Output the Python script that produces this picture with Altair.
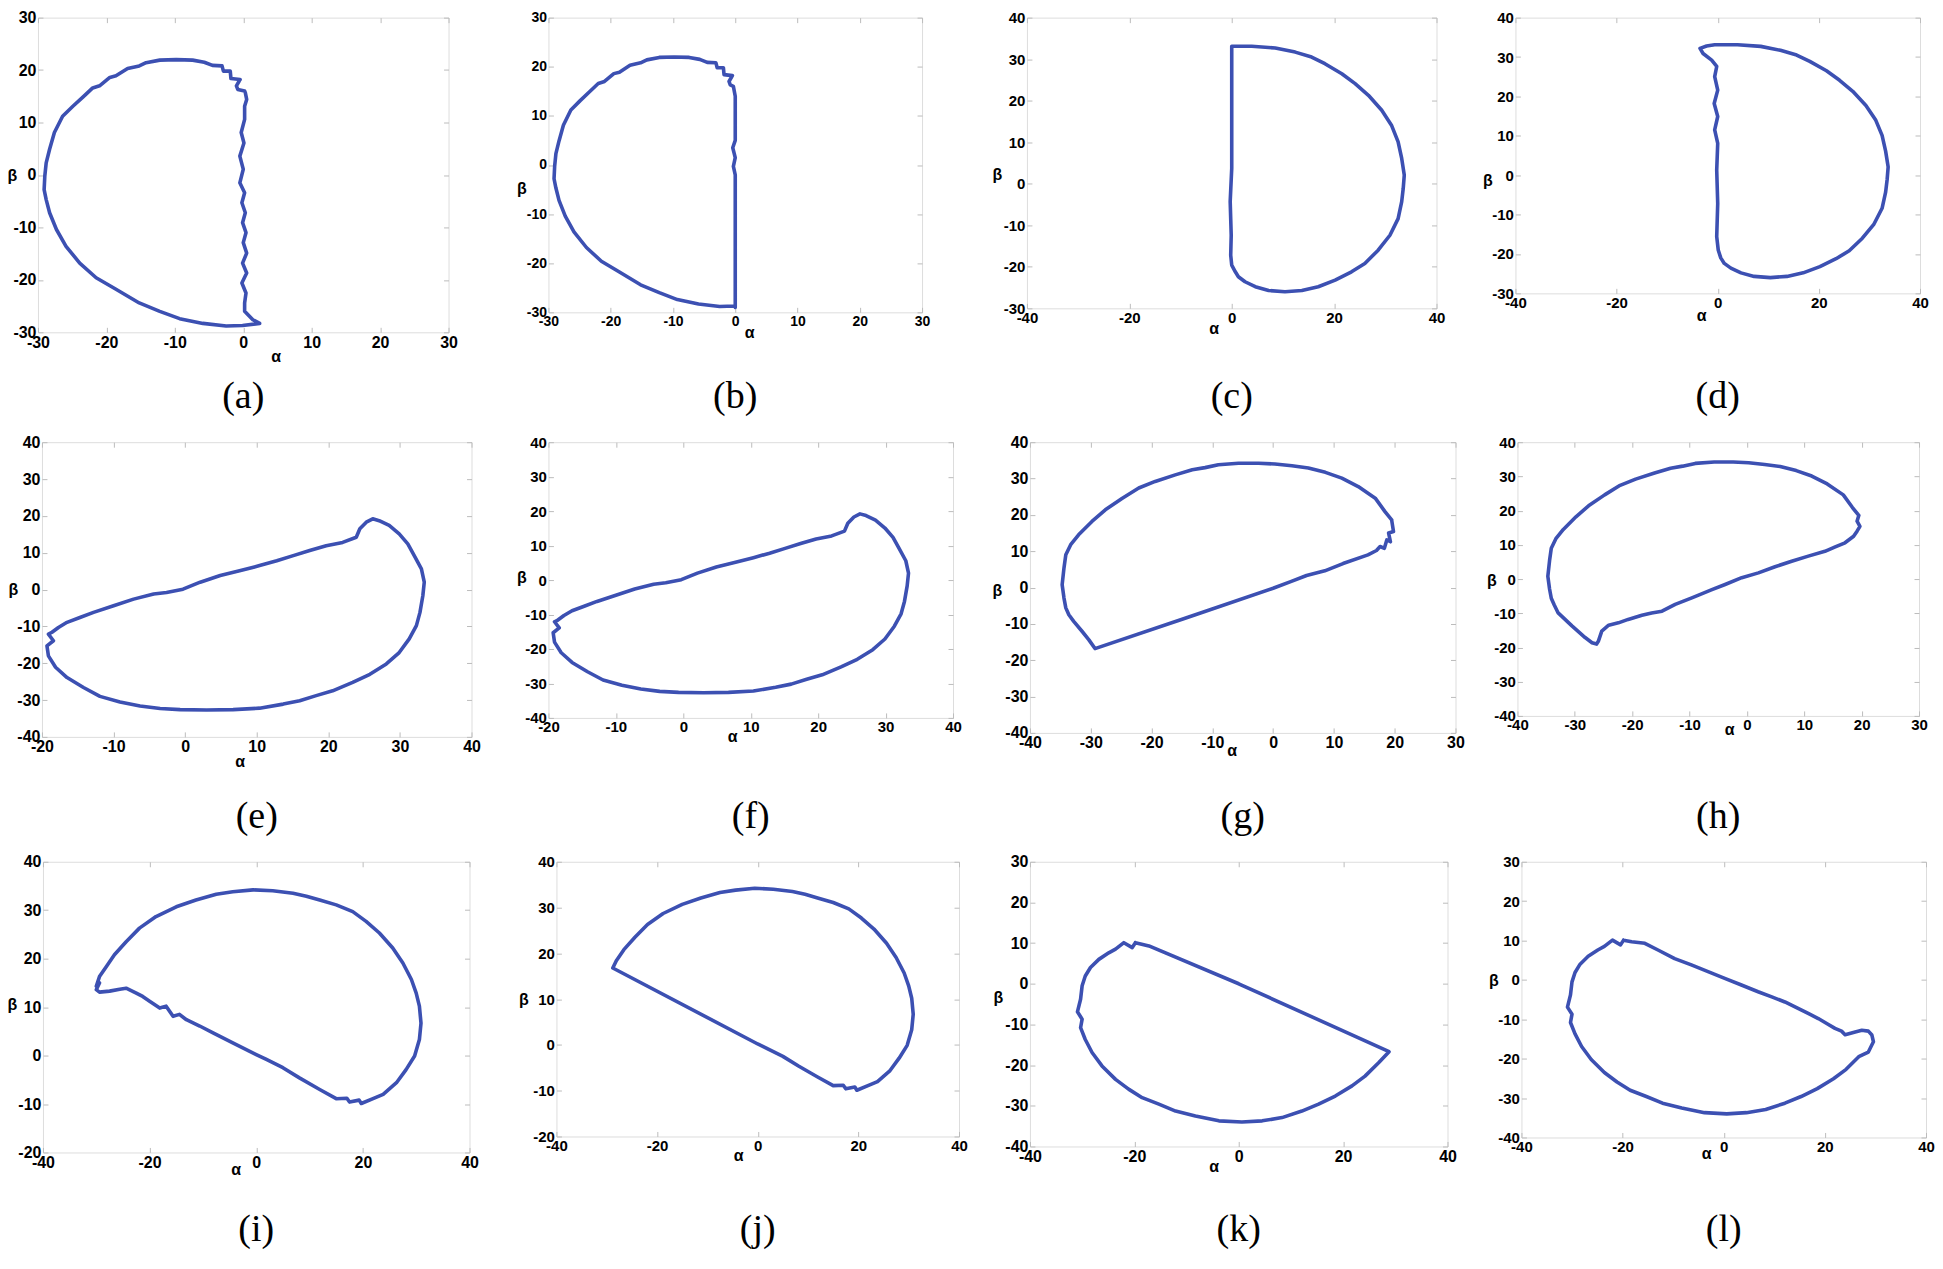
import altair as alt
import pandas as pd

# ---------------- data, (alpha, beta) pairs ----------------
ARC_AB = [(-0.46, 18.2), (-1.8, 18.4), (-1.9, 19.8), (-2.9, 19.8), (-3.1, 20.8), (-4.5, 20.9),
          (-5.7, 21.5), (-7.4, 21.9), (-9.8, 22.0), (-12.2, 21.9), (-14.2, 21.4), (-15.2, 20.8),
          (-16.9, 20.3), (-18.6, 18.9), (-19.5, 18.6), (-21.0, 17.0), (-22.0, 16.6), (-23.4, 14.9),
          (-24.9, 13.1), (-26.4, 11.2), (-27.6, 8.1), (-28.3, 4.9), (-28.8, 2.3), (-29.0, -0.2),
          (-29.1, -2.8), (-28.8, -4.7), (-28.3, -7.2), (-27.3, -10.4), (-25.9, -13.6), (-23.9, -16.8),
          (-21.5, -19.6), (-18.6, -21.8), (-15.2, -24.4), (-12.2, -26.0), (-9.3, -27.4), (-5.9, -28.3),
          (-2.5, -28.8), (-0.1, -28.7)]
A_CLOSE = [(2.4, -28.3), (1.4, -27.6), (0.2, -26.0), (0.2, -24.4), (0.4, -22.5), (-0.2, -20.6),
           (0.5, -18.7), (-0.1, -16.8), (0.5, -14.9), (0.0, -12.9), (0.4, -11.0), (-0.1, -9.1),
           (0.3, -7.2), (-0.2, -5.3), (0.2, -3.4), (-0.5, -1.5), (0.0, 1.1), (-0.5, 3.6), (0.1, 6.1),
           (-0.3, 8.1), (0.2, 10.6), (0.2, 13.1), (0.5, 14.4), (0.3, 15.7), (0.2, 16.0), (-0.8, 16.3),
           (-1.0, 17.0), (-0.46, 18.2)]
B_CLOSE = [(0.0, -29.0), (0.0, -2.0), (-0.3, -0.3), (0.0, 1.5), (-0.4, 3.5), (0.0, 5.0), (0.0, 14.0),
           (-0.3, 16.0), (-0.8, 16.3), (-1.0, 17.0), (-0.46, 18.2)]

ARC_CD = [(0.8, 33.1), (3.9, 33.1), (8.5, 32.7), (12.4, 31.7), (15.6, 30.5), (18.2, 28.9), (21.5, 26.5),
          (24.1, 24.1), (26.7, 21.3), (29.3, 17.7), (31.2, 14.1), (32.5, 10.1), (33.2, 6.1), (33.7, 2.1),
          (33.5, -1.1), (33.2, -4.3), (32.5, -8.4), (30.9, -12.4), (28.6, -16.0), (26.0, -19.2),
          (23.4, -21.2), (20.2, -23.2), (16.9, -24.8), (13.7, -25.7), (10.4, -26.0), (7.2, -25.7),
          (4.6, -24.8), (2.6, -23.6), (1.3, -22.4)]
C_CLOSE = [(0.7, -21.2), (0.0, -19.6), (-0.2, -17.2), (-0.1, -12.4), (-0.3, -4.3), (0.0, 3.7),
           (0.0, 33.1), (0.8, 33.1)]
D_CLOSE = [(0.6, -21.0), (0.1, -19.0), (-0.2, -15.6), (0.0, -7.2), (-0.2, 1.3), (0.0, 8.1), (-0.6, 11.5),
           (0.0, 14.9), (-0.7, 18.2), (0.0, 21.6), (-0.6, 25.0), (-0.2, 27.6), (-1.2, 29.2), (-2.9, 30.9),
           (-3.5, 32.2), (-2.2, 32.8), (-0.6, 33.1), (0.8, 33.1)]

LOOP_EF = [(-18.6, -11.6), (-17.7, -10.3), (-16.5, -8.9), (-14.7, -7.6), (-12.8, -6.2), (-10.0, -4.4),
           (-7.2, -2.6), (-4.4, -1.2), (-2.6, -0.8), (-0.3, 0.1), (2.1, 2.0), (4.9, 3.8), (7.6, 5.1),
           (10.4, 6.5), (12.8, 7.8), (15.1, 9.2), (17.4, 10.6), (19.7, 11.9), (22.0, 12.8), (23.9, 14.2),
           (24.4, 16.5), (25.3, 18.3), (26.2, 19.2), (27.1, 18.7), (28.5, 17.4), (29.9, 15.1), (31.1, 12.4),
           (32.0, 9.2), (33.0, 5.6), (33.4, 2.0), (33.2, -1.7), (32.8, -6.2), (32.3, -9.8), (31.3, -13.4),
           (29.9, -17.1), (28.1, -20.2), (25.8, -23.0), (23.4, -25.2), (20.6, -27.5), (18.3, -28.8),
           (16.0, -30.2), (13.7, -31.1), (10.4, -32.2), (6.7, -32.6), (3.0, -32.7), (-0.7, -32.6),
           (-3.5, -32.3), (-6.3, -31.6), (-9.1, -30.5), (-11.9, -29.0), (-14.2, -26.6), (-16.5, -23.9),
           (-18.1, -21.1), (-19.1, -18.0), (-19.3, -15.3), (-18.4, -13.9), (-19.1, -12.1), (-18.6, -11.6)]

ARC_GH = [(19.5, 18.6), (18.4, 20.9), (16.8, 24.6), (14.0, 27.8), (11.3, 30.1), (8.6, 31.7), (5.8, 32.9),
          (3.1, 33.5), (0.3, 34.0), (-2.4, 34.2), (-5.7, 34.2), (-9.0, 33.8), (-11.2, 33.0), (-13.3, 32.4),
          (-16.1, 31.0), (-19.4, 29.2), (-22.1, 27.4), (-24.8, 24.6), (-27.6, 21.4), (-29.8, 18.2),
          (-32.0, 14.5), (-33.3, 11.8), (-34.1, 9.0), (-34.4, 5.4), (-34.7, 0.8), (-34.4, -2.9),
          (-34.1, -5.6), (-33.6, -7.5)]
G_CLOSE = [(-32.8, -9.3), (-31.4, -12.1), (-30.3, -14.4), (-29.3, -16.8), (-14.6, -8.5), (0.0, -0.2),
           (3.0, 1.7), (5.5, 3.3), (8.5, 4.6), (11.5, 6.6), (15.6, 9.0), (17.0, 10.2), (17.6, 11.3),
           (18.3, 10.8), (18.7, 13.1), (19.3, 12.6), (19.0, 15.0), (19.8, 15.4), (19.5, 18.6)]
H_CLOSE = [(-32.9, -9.9), (-30.5, -13.7), (-28.2, -17.1), (-27.0, -18.6), (-26.2, -19.0), (-25.9, -18.2),
           (-25.3, -15.2), (-24.1, -13.5), (-22.4, -12.8), (-20.7, -11.8), (-18.3, -10.6), (-16.6, -9.9),
           (-14.8, -9.4), (-12.5, -7.4), (-9.6, -5.5), (-6.1, -3.1), (-3.8, -1.6), (-0.9, 0.4), (2.0, 1.8),
           (4.9, 3.6), (7.8, 5.2), (10.7, 6.7), (13.6, 8.1), (15.4, 9.4), (17.1, 10.6), (18.6, 12.5),
           (19.2, 14.0), (19.7, 15.4), (19.2, 16.9), (19.5, 18.6)]

ARC_IJ = [(-28.1, 18.4), (-26.6, 20.8), (-24.4, 23.5), (-21.9, 26.3), (-18.8, 28.7), (-15.0, 30.7),
          (-11.3, 32.1), (-7.5, 33.3), (-4.4, 33.8), (-0.6, 34.2), (3.1, 34.0), (6.9, 33.5), (9.4, 32.9),
          (11.9, 32.1), (15.0, 31.1), (18.1, 29.7), (20.6, 27.7), (23.1, 25.3), (25.6, 22.2), (27.5, 19.1),
          (29.1, 15.7), (30.0, 12.9), (30.6, 10.2), (30.9, 6.7), (30.6, 3.3), (29.7, -0.1), (28.1, -2.9),
          (26.3, -5.6), (23.8, -8.0), (21.9, -8.9), (19.7, -9.9), (19.3, -9.2), (17.5, -9.6), (17.0, -8.8),
          (15.0, -8.9), (11.9, -7.0), (8.1, -4.6), (5.0, -2.5), (1.9, -0.8), (0.0, 0.2)]
I_CLOSE = [(-4.4, 2.6), (-8.1, 4.7), (-10.6, 6.1), (-13.1, 7.4), (-14.4, 8.5), (-15.6, 8.1), (-16.9, 10.2),
           (-18.1, 9.8), (-20.0, 11.2), (-21.3, 12.2), (-22.5, 12.9), (-24.4, 13.9), (-25.6, 13.7),
           (-27.5, 13.3), (-29.4, 13.1), (-30.0, 13.6), (-29.4, 15.0), (-30.0, 14.3), (-29.4, 16.3),
           (-28.1, 18.4)]
J_CLOSE = [(-28.8, 16.8), (-28.1, 18.4)]

ARC_KL = [(-19.8, 10.1), (-20.4, 8.9), (-22.0, 10.1), (-23.6, 8.5), (-24.9, 7.6), (-26.8, 6.0), (-28.4, 4.0),
          (-29.4, 1.9), (-30.0, -0.5), (-30.3, -3.8), (-30.9, -6.9), (-30.0, -8.7), (-30.3, -10.8),
          (-29.4, -13.7), (-28.1, -16.9), (-26.2, -20.2), (-23.6, -23.5), (-21.1, -25.9), (-18.5, -28.0),
          (-15.3, -29.6), (-12.1, -31.3), (-8.3, -32.5), (-3.8, -33.7), (0.6, -34.0), (4.5, -33.7),
          (8.3, -32.9), (12.1, -31.3), (15.3, -29.6), (18.5, -27.6), (21.7, -25.1), (24.2, -22.7),
          (26.8, -19.4)]
K_CLOSE = [(28.8, -16.7), (0.0, 0.0), (-17.2, 9.3), (-19.8, 10.1)]
L_CLOSE = [(28.6, -18.3), (29.6, -15.7), (29.3, -14.0), (28.6, -13.0), (27.3, -12.8), (26.0, -13.2),
           (24.0, -13.9), (23.3, -13.0), (22.0, -12.3), (20.7, -11.3), (18.7, -9.8), (16.7, -8.5),
           (14.8, -7.3), (12.1, -5.6), (9.5, -4.3), (6.8, -3.0), (3.5, -1.3), (0.2, 0.4), (-3.1, 2.1),
           (-6.4, 3.8), (-9.7, 5.4), (-13.0, 7.6), (-15.6, 9.3), (-18.2, 9.7), (-19.8, 10.1)]

CURVES = {
    "a": ARC_AB + A_CLOSE, "b": ARC_AB + B_CLOSE,
    "c": ARC_CD + C_CLOSE, "d": ARC_CD + D_CLOSE,
    "e": LOOP_EF, "f": LOOP_EF,
    "g": ARC_GH + G_CLOSE, "h": ARC_GH + H_CLOSE,
    "i": ARC_IJ + I_CLOSE, "j": ARC_IJ + J_CLOSE,
    "k": ARC_KL + K_CLOSE, "l": ARC_KL + L_CLOSE,
}

# ---------------- layout / style ----------------
# key: xdom, ydom, xstep, width, height, label size, alpha(dx,dy), beta(dx,dy), caption offset
PANELS = {
    "a": ([-30, 30], [-30, 30], 10, 411, 315, 16, (238, 24), (-26, 158), 14),
    "b": ([-30, 30], [-30, 30], 10, 374, 295, 14, (201, 20), (-27, 171), 38),
    "c": ([-40, 40], [-30, 40], 20, 410, 291, 15, (187, 20), (-30, 157), 42),
    "d": ([-40, 40], [-30, 40], 20, 405, 276, 15, (186, 22), (-28, 163), 55),
    "e": ([-20, 40], [-40, 40], 10, 430, 295, 16, (198, 25), (-29, 147), 28),
    "f": ([-20, 40], [-40, 40], 10, 405, 276, 15, (184, 19), (-27, 135), 53),
    "g": ([-40, 30], [-40, 40], 10, 426, 291, 16, (202, 18), (-33, 148), 39),
    "h": ([-40, 30], [-40, 40], 10, 402, 274, 15, (212, 14), (-26, 138), 60),
    "i": ([-40, 40], [-20, 40], 20, 427, 291, 16, (193, 17), (-31, 143), 34),
    "j": ([-40, 40], [-20, 40], 20, 403, 275, 15, (182, 19), (-33, 138), 48),
    "k": ([-40, 40], [-40, 30], 20, 418, 285, 16, (184, 20), (-32, 136), 37),
    "l": ([-40, 40], [-40, 30], 20, 405, 276, 15, (185, 16), (-28, 119), 50),
}
# panels and the gaps (px) between plot areas, row by row
ROWS = [("a", 100, "b", 105, "c", 79, "d"),
        (4, "e", 77, "f", 77, "g", 62, "h"),
        (5, "i", 87, "j", 71, "k", 74, "l")]

BLUE = "#3c50b2"
FRAME = "#bcbcbc"
SANS = "Liberation Sans"
SERIF = "Liberation Serif"
TICK = 5


def axis(orient, values, fs, with_labels=True, title=None, tx=0, ty=0):
    kw = dict(orient=orient, values=values, offset=-TICK, tickSize=TICK, tickColor=FRAME,
              tickWidth=1, domain=False, grid=False, labelFlush=False, labelOverlap=False)
    if with_labels:
        kw.update(labelFont=SANS, labelFontWeight="bold", labelFontSize=fs, labelColor="black",
                  labelPadding=2, labelExpr="'' + datum.value",
                  title=title, titleFont=SANS, titleFontWeight="bold",
                  titleFontSize=16, titleColor="black", titleAngle=0, titleAlign="center",
                  titleBaseline="middle", titleX=tx, titleY=ty)
    else:
        kw.update(labels=False, title=None)
    return alt.Axis(**kw)


def panel(key):
    xdom, ydom, xstep, w, h, fs, (adx, ady), (bdx, bdy), capoff = PANELS[key]
    pts = CURVES[key]
    df = pd.DataFrame({"i": list(range(len(pts))),
                       "alpha": [p[0] for p in pts],
                       "beta": [p[1] for p in pts]})
    xt = list(range(xdom[0], xdom[1] + 1, xstep))
    yt = list(range(ydom[0], ydom[1] + 1, 10))
    xs = alt.Scale(domain=xdom, nice=False, zero=False)
    ys = alt.Scale(domain=ydom, nice=False, zero=False)
    base = alt.Chart(df)
    line = base.mark_line(color=BLUE, strokeWidth=3.6, strokeJoin="round", strokeCap="round").encode(
        x=alt.X("alpha:Q", scale=xs, axis=axis("bottom", xt, fs, title="α", tx=adx, ty=ady + TICK)),
        y=alt.Y("beta:Q", scale=ys, axis=axis("left", yt, fs, title="β", tx=bdx - TICK, ty=bdy)),
        order="i:Q",
    )
    ghost = base.mark_point(opacity=0).encode(
        x=alt.X("alpha:Q", scale=xs, axis=axis("top", xt, fs, with_labels=False)),
        y=alt.Y("beta:Q", scale=ys, axis=axis("right", yt, fs, with_labels=False)),
    )
    return alt.layer(line, ghost).resolve_axis(x="independent", y="independent").properties(
        width=w, height=h,
        title=alt.TitleParams(text="(" + key + ")", orient="bottom", anchor="middle", frame="group",
                              font=SERIF, fontSize=38, fontWeight="normal", color="black",
                              offset=capoff),
    )


def spacer(w):
    return alt.Chart(pd.DataFrame({"s": [0]})).mark_point(opacity=0).encode(
        x=alt.value(0), y=alt.value(0)
    ).properties(width=w, height=10, view=alt.ViewBackground(stroke="transparent"))


rows = []
for r in ROWS:
    items = []
    for it in r:
        items.append(panel(it) if isinstance(it, str) else spacer(it))
    rows.append(alt.hconcat(*items, spacing=0, bounds="flush"))

chart = alt.vconcat(*rows, spacing=16).properties(
    padding={"left": -2, "top": 0, "right": 0, "bottom": 0}
).configure_view(stroke=FRAME, strokeWidth=1).configure(background="white")

chart.save("out.html", embed_options={"renderer": "svg", "actions": False})
